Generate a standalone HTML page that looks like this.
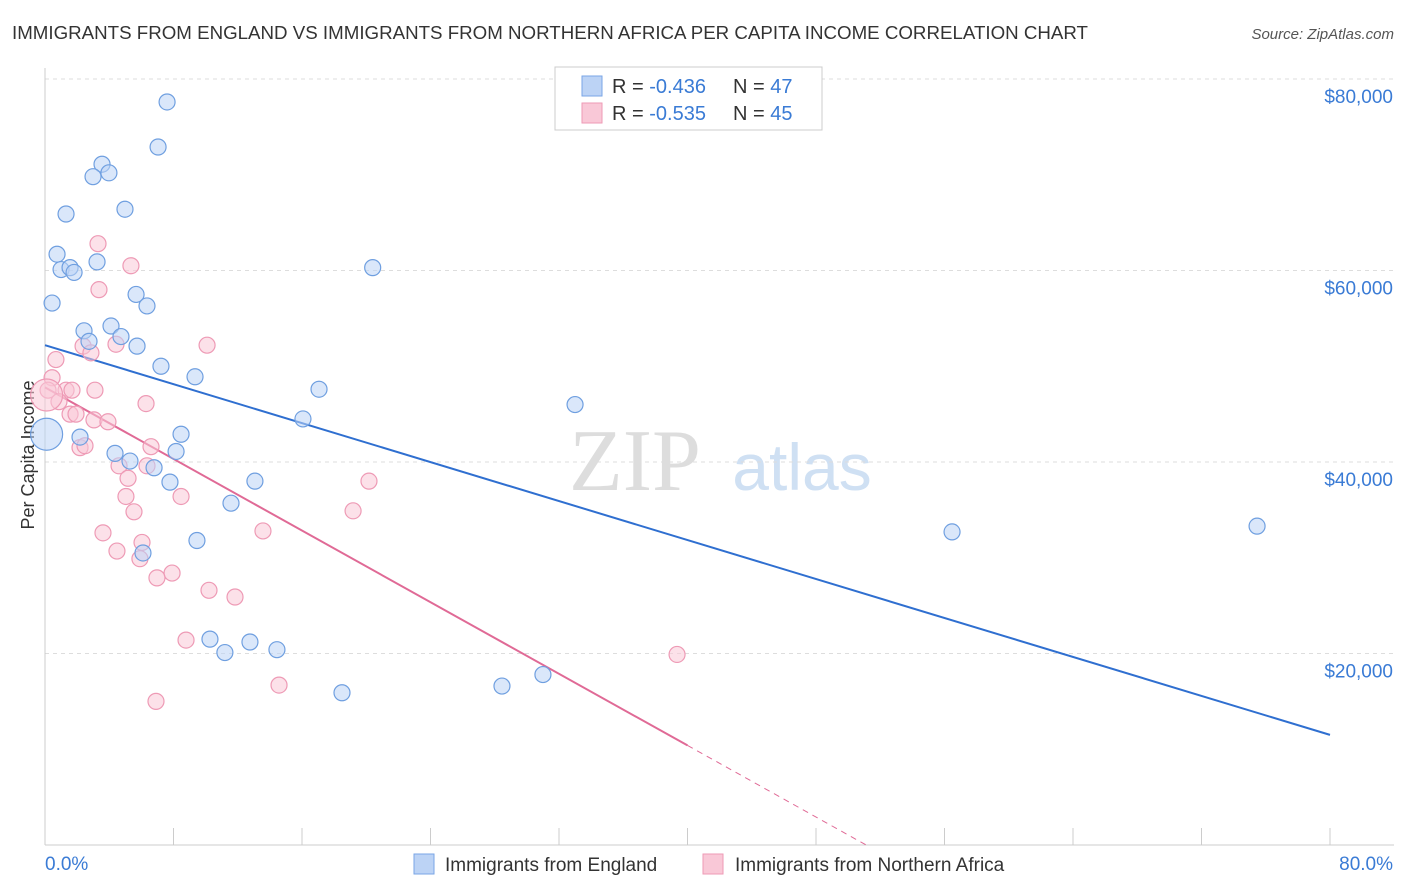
<!DOCTYPE html>
<html><head><meta charset="utf-8"><style>
body{margin:0;background:#fff;font-family:"Liberation Sans",sans-serif;}
svg{display:block}
</style></head><body>
<svg id="c" width="1406" height="892">
<text x="12" y="39" font-size="18" fill="#333" textLength="1076" lengthAdjust="spacingAndGlyphs">IMMIGRANTS FROM ENGLAND VS IMMIGRANTS FROM NORTHERN AFRICA PER CAPITA INCOME CORRELATION CHART</text>
<text x="1394" y="39" font-size="15" fill="#555" font-style="italic" text-anchor="end">Source: ZipAtlas.com</text>
<text x="34" y="455" font-size="18" fill="#333" text-anchor="middle" transform="rotate(-90 34 455)">Per Capita Income</text>
<g><text x="635" y="490" font-size="88" fill="#ddd" font-family="Liberation Serif,serif" text-anchor="middle">ZIP</text><text x="802" y="490" font-size="66" fill="#cfe0f3" text-anchor="middle">atlas</text></g>
<g id="grid"></g><g id="lines"></g><g id="pts"></g>
<g>
<rect x="555" y="67" width="267" height="63" fill="#fff" stroke="#ccc"/>
<rect x="582" y="76" width="20" height="20" fill="#bcd3f5" stroke="#7aa6e6"/>
<rect x="582" y="103" width="20" height="20" fill="#f9c8d7" stroke="#ee9ab5"/>
<text x="612" y="93" font-size="20" fill="#333">R = <tspan fill="#3a7bd5">-0.436</tspan></text>
<text x="733" y="93" font-size="20" fill="#333">N = <tspan fill="#3a7bd5">47</tspan></text>
<text x="612" y="120" font-size="20" fill="#333">R = <tspan fill="#3a7bd5">-0.535</tspan></text>
<text x="733" y="120" font-size="20" fill="#333">N = <tspan fill="#3a7bd5">45</tspan></text>
</g>
<g>
<rect x="414" y="854" width="20" height="20" fill="#bcd3f5" stroke="#7aa6e6"/>
<text x="445" y="871" font-size="19" fill="#333">Immigrants from England</text>
<rect x="703" y="854" width="20" height="20" fill="#f9c8d7" stroke="#ee9ab5"/>
<text x="735" y="871" font-size="19" fill="#333">Immigrants from Northern Africa</text>
</g>
<text x="45" y="870" font-size="19" fill="#3a7bd5">0.0%</text>
<text x="1393" y="870" font-size="19" fill="#3a7bd5" text-anchor="end">80.0%</text>
</svg>
<script>
const yTicks=[20000,40000,60000,80000];
const yTickLabels=["$20,000","$40,000","$60,000","$80,000"];
const xTicks=[0,8,16,24,32,40,48,56,64,72,80];
const engX=[7.6,7.04,3.55,2.99,3.98,4.98,1.31,0.75,3.24,1.0,1.56,1.81,20.4,0.44,5.67,6.35,2.43,4.11,4.73,2.74,5.73,7.22,9.34,17.06,33.0,16.06,8.47,2.18,8.16,4.36,5.29,6.79,7.78,13.07,11.58,56.47,75.46,9.46,6.1,10.27,12.76,11.2,14.44,18.49,28.45,31.0,0.1];
const engY=[77600,72900,71100,69800,70200,66400,65900,61700,60900,60100,60300,59800,60300,56600,57500,56300,53700,54200,53100,52600,52100,50000,48900,47600,46000,44500,42900,42600,41100,40900,40100,39400,37900,38000,35700,32700,33300,31800,30500,21500,21200,20100,20400,15900,16600,17800,42900];
const afrX=[3.3,5.35,3.36,10.09,4.42,2.37,2.86,0.68,0.44,0.19,1.31,1.68,3.11,0.87,6.29,1.56,1.93,3.05,3.92,2.18,2.49,6.6,4.61,6.35,5.17,20.17,8.47,5.04,5.54,19.18,13.57,3.61,6.04,4.48,5.91,7.91,6.97,10.21,11.83,8.78,39.35,14.57,6.91,0.1];
const afrY=[62800,60500,58000,52200,52300,52100,51400,50700,48800,47500,47500,47500,47500,46300,46100,45000,45000,44400,44200,41500,41700,41600,39600,39600,38300,38000,36400,36400,34800,34900,32800,32600,31600,30700,29900,28400,27900,26600,25900,21400,19900,16700,15000,47000];
const engTrend=[52200,11500];
const afrTrend=[47800,10400,40];
const sx=v=>45+v/80*1285, sy=v=>845-v/80000*766;
const NS="http://www.w3.org/2000/svg";
function mk(p,t,a){const e=document.createElementNS(NS,t);for(const k in a)e.setAttribute(k,a[k]);p.appendChild(e);return e;}
const g=document.getElementById('grid');
yTicks.forEach((v,i)=>{
 const l=mk(g,'line',{x1:45,x2:1394,y1:sy(v),y2:sy(v),stroke:'#ddd','stroke-dasharray':'4,4'});
 
 
 const t=mk(g,'text',{x:1393,y:sy(v)+24,'font-size':19,fill:'#3a7bd5','text-anchor':'end'});t.textContent=yTickLabels[i];
 
 
});
const topLine=mk(g,'line',{x1:45,x2:1394,y1:79,y2:79,stroke:'#ddd','stroke-dasharray':'4,4'});


mk(g,'line',{x1:45,x2:45,y1:68,y2:845,stroke:'#ccc'});
const ax=mk(g,'line',{x1:45,x2:1394,y1:845,y2:845,stroke:'#ccc'});


xTicks.forEach(v=>{const t=mk(g,'line',{x1:sx(v),x2:sx(v),y1:828,y2:845,stroke:'#ccc'});
 
 });
const L=document.getElementById('lines');
const bl=mk(L,'line',{x1:sx(0),y1:sy(engTrend[0]),x2:sx(80),y2:sy(engTrend[1]),stroke:'#2f6fd0','stroke-width':2});


const pl=mk(L,'line',{x1:sx(0),y1:sy(afrTrend[0]),x2:sx(afrTrend[2]),y2:sy(afrTrend[1]),stroke:'#e06a96','stroke-width':2});


const slope=(afrTrend[1]-afrTrend[0])/afrTrend[2], x0=-afrTrend[0]/slope;
const pd=mk(L,'line',{x1:sx(afrTrend[2]),y1:sy(afrTrend[1]),x2:sx(x0),y2:sy(0),stroke:'#e06a96','stroke-width':1,'stroke-dasharray':'6,5'});


const P=document.getElementById('pts');
function pts(X,Y,fill,stroke,name){X.forEach((x,i)=>{const big=i===X.length-1;
 const c=mk(P,'circle',{cx:sx(x),cy:sy(Y[i]),r:big?16:8,fill:fill,'fill-opacity':0.55,stroke:stroke,'stroke-width':1.2});
 
 });}
pts(afrX,afrY,'#f9c8d7','#ee9ab5','northern-africa-point');
pts(engX,engY,'#bcd3f5','#6f9fe0','england-point');
</script>
</body></html>
